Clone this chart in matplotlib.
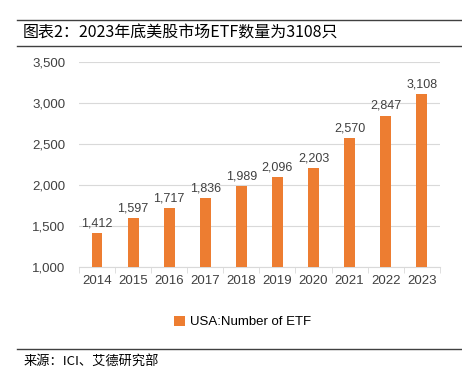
import matplotlib.pyplot as plt
from matplotlib.lines import Line2D
from matplotlib.ticker import FuncFormatter

plt.rcParams['font.family'] = ['Liberation Sans', 'DejaVu Sans']

years = ["2014", "2015", "2016", "2017", "2018", "2019", "2020", "2021", "2022", "2023"]
etf_count = [1412, 1597, 1717, 1836, 1989, 2096, 2203, 2570, 2847, 3108]
title = "图表2：2023年底美股市场ETF数量为3108只"
source = "来源：ICI、艾德研究部"
legend_label = "USA:Number of ETF"

bar_color = "#ED7D31"

fig = plt.figure(figsize=(4.62, 3.79), dpi=100)
ax = fig.add_axes([0.171, 0.2955, 0.781, 0.541])

x = range(len(years))
bars = ax.bar(x, etf_count, width=0.3, color=bar_color, label=legend_label, zorder=3)
for xi, v in zip(x, etf_count):
    ax.text(xi, v + 45, f"{v:,}", ha="center", va="bottom", fontsize=9, color="#404040")

ax.set_ylim(1000, 3500)
ax.set_xlim(-0.5, len(years) - 0.5)
ax.set_yticks(range(1000, 3501, 500))
ax.yaxis.set_major_formatter(FuncFormatter(lambda v, p: f"{int(v):,}"))
ax.set_xticks(list(x))
ax.set_xticklabels(years)
ax.set_xticks([i - 0.5 for i in range(len(years) + 1)], minor=True)
ax.tick_params(axis="x", which="major", length=0, labelsize=9.5, colors="#404040", pad=6)
ax.tick_params(axis="x", which="minor", length=4, color="#d9d9d9")
ax.tick_params(axis="y", length=0, labelsize=9.5, colors="#404040", pad=10)
ax.grid(axis="y", color="#d9d9d9", linewidth=0.8, zorder=0)
for s in ["top", "right", "left"]:
    ax.spines[s].set_visible(False)
ax.spines["bottom"].set_color("#d9d9d9")

fig.legend(loc="center", bbox_to_anchor=(0.525, 0.15), frameon=False, fontsize=9.5,
           handlelength=0.8, handleheight=0.8, handletextpad=0.4)

# header and footer lines
fig.add_artist(Line2D([0.037, 1.0], [1 - 20 / 379, 1 - 20 / 379], color="#404040", linewidth=1))
fig.add_artist(Line2D([0.037, 1.0], [1 - 46 / 379, 1 - 46 / 379], color="#404040", linewidth=1))
fig.add_artist(Line2D([0.037, 1.0], [1 - 349 / 379, 1 - 349 / 379], color="#404040", linewidth=1))
fig.text(0.05, 1 - 33 / 379, title, fontsize=11.5, va="center", ha="left",
         family=["Noto Sans CJK SC", "DejaVu Sans"])
fig.text(0.05, 1 - 361 / 379, source, fontsize=9.5, va="center", ha="left",
         family=["Noto Sans CJK SC", "DejaVu Sans"])

fig.savefig("out.png", dpi=100)
